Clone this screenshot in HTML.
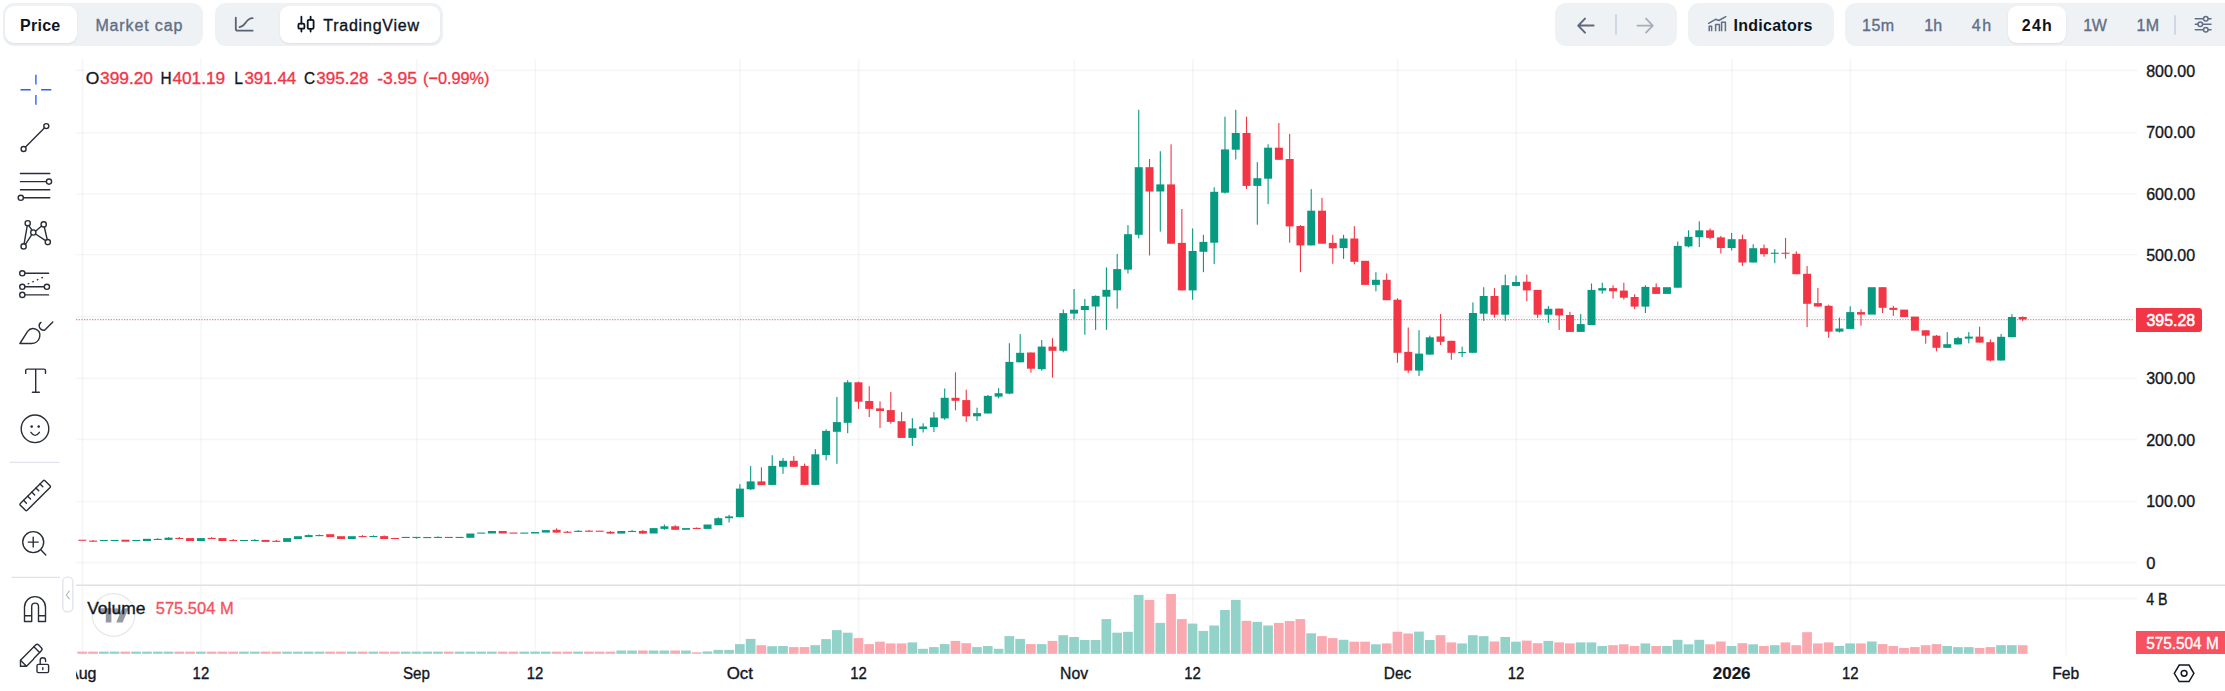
<!DOCTYPE html>
<html lang="en"><head><meta charset="utf-8"><title>Chart</title>
<style>
html,body{margin:0;padding:0;background:#fff;}
body{width:2225px;height:691px;position:relative;overflow:hidden;font-family:"Liberation Sans",sans-serif;}
.grp{position:absolute;top:3px;height:43px;background:#eff2f5;border-radius:11px;}
.pill{position:absolute;top:6px;height:37px;background:#fff;border-radius:9px;box-shadow:0 1px 2px rgba(128,138,157,.18);}
.t{position:absolute;line-height:20px;white-space:nowrap;}
.dv{position:absolute;width:2px;background:#cfd6e4;border-radius:1px;}
svg{overflow:visible}
</style></head><body>

<svg width="2225" height="691" viewBox="0 0 2225 691" style="position:absolute;left:0;top:0" font-family="'Liberation Sans', sans-serif"><defs><clipPath id="tclip"><rect x="76" y="655" width="2100" height="36"/></clipPath></defs><line x1="76" y1="70.40" x2="84" y2="70.40" stroke="#2a2e39" stroke-opacity="0.045" stroke-width="1.6"/>
<line x1="493" y1="70.40" x2="2137" y2="70.40" stroke="#2a2e39" stroke-opacity="0.045" stroke-width="1.6"/>
<line x1="76" y1="133.00" x2="2137" y2="133.00" stroke="#2a2e39" stroke-opacity="0.045" stroke-width="1.6"/>
<line x1="76" y1="194.00" x2="2137" y2="194.00" stroke="#2a2e39" stroke-opacity="0.045" stroke-width="1.6"/>
<line x1="76" y1="254.80" x2="2137" y2="254.80" stroke="#2a2e39" stroke-opacity="0.045" stroke-width="1.6"/>
<line x1="76" y1="316.90" x2="2137" y2="316.90" stroke="#2a2e39" stroke-opacity="0.045" stroke-width="1.6"/>
<line x1="76" y1="378.40" x2="2137" y2="378.40" stroke="#2a2e39" stroke-opacity="0.045" stroke-width="1.6"/>
<line x1="76" y1="439.40" x2="2137" y2="439.40" stroke="#2a2e39" stroke-opacity="0.045" stroke-width="1.6"/>
<line x1="76" y1="501.50" x2="2137" y2="501.50" stroke="#2a2e39" stroke-opacity="0.045" stroke-width="1.6"/>
<line x1="76" y1="562.60" x2="2137" y2="562.60" stroke="#2a2e39" stroke-opacity="0.045" stroke-width="1.6"/>
<line x1="238" y1="598.6" x2="2137" y2="598.6" stroke="#2a2e39" stroke-opacity="0.045" stroke-width="1.6"/>
<line x1="82.50" y1="59" x2="82.50" y2="655" stroke="#2a2e39" stroke-opacity="0.045" stroke-width="1.6"/>
<line x1="201.08" y1="59" x2="201.08" y2="655" stroke="#2a2e39" stroke-opacity="0.045" stroke-width="1.6"/>
<line x1="416.68" y1="59" x2="416.68" y2="655" stroke="#2a2e39" stroke-opacity="0.045" stroke-width="1.6"/>
<line x1="535.26" y1="59" x2="535.26" y2="655" stroke="#2a2e39" stroke-opacity="0.045" stroke-width="1.6"/>
<line x1="740.08" y1="59" x2="740.08" y2="655" stroke="#2a2e39" stroke-opacity="0.045" stroke-width="1.6"/>
<line x1="858.66" y1="59" x2="858.66" y2="655" stroke="#2a2e39" stroke-opacity="0.045" stroke-width="1.6"/>
<line x1="1074.26" y1="59" x2="1074.26" y2="655" stroke="#2a2e39" stroke-opacity="0.045" stroke-width="1.6"/>
<line x1="1192.84" y1="59" x2="1192.84" y2="655" stroke="#2a2e39" stroke-opacity="0.045" stroke-width="1.6"/>
<line x1="1397.66" y1="59" x2="1397.66" y2="655" stroke="#2a2e39" stroke-opacity="0.045" stroke-width="1.6"/>
<line x1="1516.24" y1="59" x2="1516.24" y2="655" stroke="#2a2e39" stroke-opacity="0.045" stroke-width="1.6"/>
<line x1="1731.84" y1="59" x2="1731.84" y2="655" stroke="#2a2e39" stroke-opacity="0.045" stroke-width="1.6"/>
<line x1="1850.42" y1="59" x2="1850.42" y2="655" stroke="#2a2e39" stroke-opacity="0.045" stroke-width="1.6"/>
<line x1="2066.02" y1="59" x2="2066.02" y2="655" stroke="#2a2e39" stroke-opacity="0.045" stroke-width="1.6"/>
<rect x="76" y="584.5" width="2149" height="1.4" fill="#dcdee4"/>
<g>
<rect x="77.4" y="651.6" width="9.7" height="2.2" fill="#f9a9af"/>
<rect x="88.2" y="651.6" width="9.7" height="2.2" fill="#f9a9af"/>
<rect x="99.0" y="651.6" width="9.7" height="2.2" fill="#92d2c9"/>
<rect x="109.7" y="651.6" width="9.7" height="2.2" fill="#92d2c9"/>
<rect x="120.5" y="651.6" width="9.7" height="2.2" fill="#f9a9af"/>
<rect x="131.3" y="651.6" width="9.7" height="2.2" fill="#92d2c9"/>
<rect x="142.1" y="651.6" width="9.7" height="2.2" fill="#92d2c9"/>
<rect x="152.9" y="651.6" width="9.7" height="2.2" fill="#92d2c9"/>
<rect x="163.6" y="651.6" width="9.7" height="2.2" fill="#92d2c9"/>
<rect x="174.4" y="651.6" width="9.7" height="2.2" fill="#f9a9af"/>
<rect x="185.2" y="651.6" width="9.7" height="2.2" fill="#f9a9af"/>
<rect x="196.0" y="651.6" width="9.7" height="2.2" fill="#92d2c9"/>
<rect x="206.8" y="651.6" width="9.7" height="2.2" fill="#f9a9af"/>
<rect x="217.5" y="651.6" width="9.7" height="2.2" fill="#f9a9af"/>
<rect x="228.3" y="651.6" width="9.7" height="2.2" fill="#f9a9af"/>
<rect x="239.1" y="651.6" width="9.7" height="2.2" fill="#92d2c9"/>
<rect x="249.9" y="651.6" width="9.7" height="2.2" fill="#92d2c9"/>
<rect x="260.7" y="651.6" width="9.7" height="2.2" fill="#f9a9af"/>
<rect x="271.4" y="651.6" width="9.7" height="2.2" fill="#f9a9af"/>
<rect x="282.2" y="651.6" width="9.7" height="2.2" fill="#92d2c9"/>
<rect x="293.0" y="651.6" width="9.7" height="2.2" fill="#92d2c9"/>
<rect x="303.8" y="651.6" width="9.7" height="2.2" fill="#92d2c9"/>
<rect x="314.6" y="651.6" width="9.7" height="2.2" fill="#92d2c9"/>
<rect x="325.3" y="651.6" width="9.7" height="2.2" fill="#f9a9af"/>
<rect x="336.1" y="651.6" width="9.7" height="2.2" fill="#f9a9af"/>
<rect x="346.9" y="651.6" width="9.7" height="2.2" fill="#92d2c9"/>
<rect x="357.7" y="651.6" width="9.7" height="2.2" fill="#f9a9af"/>
<rect x="368.5" y="651.6" width="9.7" height="2.2" fill="#92d2c9"/>
<rect x="379.2" y="651.6" width="9.7" height="2.2" fill="#f9a9af"/>
<rect x="390.0" y="651.6" width="9.7" height="2.2" fill="#f9a9af"/>
<rect x="400.8" y="651.6" width="9.7" height="2.2" fill="#92d2c9"/>
<rect x="411.6" y="651.6" width="9.7" height="2.2" fill="#92d2c9"/>
<rect x="422.4" y="651.6" width="9.7" height="2.2" fill="#92d2c9"/>
<rect x="433.1" y="651.6" width="9.7" height="2.2" fill="#92d2c9"/>
<rect x="443.9" y="651.6" width="9.7" height="2.2" fill="#f9a9af"/>
<rect x="454.7" y="651.6" width="9.7" height="2.2" fill="#92d2c9"/>
<rect x="465.5" y="651.6" width="9.7" height="2.2" fill="#92d2c9"/>
<rect x="476.3" y="651.6" width="9.7" height="2.2" fill="#92d2c9"/>
<rect x="487.0" y="651.6" width="9.7" height="2.2" fill="#92d2c9"/>
<rect x="497.8" y="651.6" width="9.7" height="2.2" fill="#f9a9af"/>
<rect x="508.6" y="651.6" width="9.7" height="2.2" fill="#f9a9af"/>
<rect x="519.4" y="651.6" width="9.7" height="2.2" fill="#92d2c9"/>
<rect x="530.2" y="651.6" width="9.7" height="2.2" fill="#92d2c9"/>
<rect x="540.9" y="651.6" width="9.7" height="2.2" fill="#92d2c9"/>
<rect x="551.7" y="651.6" width="9.7" height="2.2" fill="#f9a9af"/>
<rect x="562.5" y="651.6" width="9.7" height="2.2" fill="#f9a9af"/>
<rect x="573.3" y="651.6" width="9.7" height="2.2" fill="#92d2c9"/>
<rect x="584.1" y="651.6" width="9.7" height="2.2" fill="#f9a9af"/>
<rect x="594.8" y="651.6" width="9.7" height="2.2" fill="#f9a9af"/>
<rect x="605.6" y="651.6" width="9.7" height="2.2" fill="#f9a9af"/>
<rect x="616.4" y="650.5" width="9.7" height="3.3" fill="#92d2c9"/>
<rect x="627.2" y="650.5" width="9.7" height="3.3" fill="#92d2c9"/>
<rect x="638.0" y="650.5" width="9.7" height="3.3" fill="#f9a9af"/>
<rect x="648.7" y="650.5" width="9.7" height="3.3" fill="#92d2c9"/>
<rect x="659.5" y="650.5" width="9.7" height="3.3" fill="#92d2c9"/>
<rect x="670.3" y="650.5" width="9.7" height="3.3" fill="#f9a9af"/>
<rect x="681.1" y="650.5" width="9.7" height="3.3" fill="#92d2c9"/>
<rect x="691.9" y="652.3" width="9.7" height="1.5" fill="#f9a9af"/>
<rect x="702.6" y="651.4" width="9.7" height="2.4" fill="#92d2c9"/>
<rect x="713.4" y="649.9" width="9.7" height="3.9" fill="#92d2c9"/>
<rect x="724.2" y="649.9" width="9.7" height="3.9" fill="#92d2c9"/>
<rect x="735.0" y="644.1" width="9.7" height="9.7" fill="#92d2c9"/>
<rect x="745.8" y="638.9" width="9.7" height="14.9" fill="#92d2c9"/>
<rect x="756.5" y="645.2" width="9.7" height="8.6" fill="#f9a9af"/>
<rect x="767.3" y="646.2" width="9.7" height="7.6" fill="#92d2c9"/>
<rect x="778.1" y="646.0" width="9.7" height="7.8" fill="#92d2c9"/>
<rect x="788.9" y="647.1" width="9.7" height="6.7" fill="#f9a9af"/>
<rect x="799.7" y="647.1" width="9.7" height="6.7" fill="#f9a9af"/>
<rect x="810.4" y="645.2" width="9.7" height="8.6" fill="#92d2c9"/>
<rect x="821.2" y="639.1" width="9.7" height="14.7" fill="#92d2c9"/>
<rect x="832.0" y="630.1" width="9.7" height="23.7" fill="#92d2c9"/>
<rect x="842.8" y="632.7" width="9.7" height="21.1" fill="#92d2c9"/>
<rect x="853.6" y="638.1" width="9.7" height="15.7" fill="#f9a9af"/>
<rect x="864.3" y="644.1" width="9.7" height="9.7" fill="#f9a9af"/>
<rect x="875.1" y="641.7" width="9.7" height="12.1" fill="#f9a9af"/>
<rect x="885.9" y="643.4" width="9.7" height="10.4" fill="#f9a9af"/>
<rect x="896.7" y="643.4" width="9.7" height="10.4" fill="#f9a9af"/>
<rect x="907.5" y="642.4" width="9.7" height="11.4" fill="#92d2c9"/>
<rect x="918.2" y="648.8" width="9.7" height="5.0" fill="#92d2c9"/>
<rect x="929.0" y="647.1" width="9.7" height="6.7" fill="#92d2c9"/>
<rect x="939.8" y="644.1" width="9.7" height="9.7" fill="#92d2c9"/>
<rect x="950.6" y="640.9" width="9.7" height="12.9" fill="#f9a9af"/>
<rect x="961.4" y="643.2" width="9.7" height="10.6" fill="#f9a9af"/>
<rect x="972.1" y="647.1" width="9.7" height="6.7" fill="#92d2c9"/>
<rect x="982.9" y="646.0" width="9.7" height="7.8" fill="#92d2c9"/>
<rect x="993.7" y="648.8" width="9.7" height="5.0" fill="#92d2c9"/>
<rect x="1004.5" y="636.1" width="9.7" height="17.7" fill="#92d2c9"/>
<rect x="1015.3" y="638.9" width="9.7" height="14.9" fill="#92d2c9"/>
<rect x="1026.0" y="644.1" width="9.7" height="9.7" fill="#f9a9af"/>
<rect x="1036.8" y="644.1" width="9.7" height="9.7" fill="#92d2c9"/>
<rect x="1047.6" y="640.9" width="9.7" height="12.9" fill="#f9a9af"/>
<rect x="1058.4" y="635.2" width="9.7" height="18.6" fill="#92d2c9"/>
<rect x="1069.2" y="637.0" width="9.7" height="16.8" fill="#92d2c9"/>
<rect x="1079.9" y="640.0" width="9.7" height="13.8" fill="#92d2c9"/>
<rect x="1090.7" y="640.0" width="9.7" height="13.8" fill="#92d2c9"/>
<rect x="1101.5" y="619.1" width="9.7" height="34.7" fill="#92d2c9"/>
<rect x="1112.3" y="632.7" width="9.7" height="21.1" fill="#92d2c9"/>
<rect x="1123.1" y="631.8" width="9.7" height="22.0" fill="#92d2c9"/>
<rect x="1133.8" y="594.9" width="9.7" height="58.9" fill="#92d2c9"/>
<rect x="1144.6" y="599.9" width="9.7" height="53.9" fill="#f9a9af"/>
<rect x="1155.4" y="622.9" width="9.7" height="30.9" fill="#92d2c9"/>
<rect x="1166.2" y="594.0" width="9.7" height="59.8" fill="#f9a9af"/>
<rect x="1177.0" y="619.1" width="9.7" height="34.7" fill="#f9a9af"/>
<rect x="1187.7" y="623.6" width="9.7" height="30.2" fill="#92d2c9"/>
<rect x="1198.5" y="630.9" width="9.7" height="22.9" fill="#92d2c9"/>
<rect x="1209.3" y="625.5" width="9.7" height="28.3" fill="#92d2c9"/>
<rect x="1220.1" y="610.0" width="9.7" height="43.8" fill="#92d2c9"/>
<rect x="1230.9" y="599.9" width="9.7" height="53.9" fill="#92d2c9"/>
<rect x="1241.6" y="620.8" width="9.7" height="33.0" fill="#f9a9af"/>
<rect x="1252.4" y="621.9" width="9.7" height="31.9" fill="#92d2c9"/>
<rect x="1263.2" y="625.5" width="9.7" height="28.3" fill="#92d2c9"/>
<rect x="1274.0" y="622.9" width="9.7" height="30.9" fill="#f9a9af"/>
<rect x="1284.8" y="621.0" width="9.7" height="32.8" fill="#f9a9af"/>
<rect x="1295.5" y="619.1" width="9.7" height="34.7" fill="#f9a9af"/>
<rect x="1306.3" y="633.3" width="9.7" height="20.5" fill="#92d2c9"/>
<rect x="1317.1" y="636.1" width="9.7" height="17.7" fill="#f9a9af"/>
<rect x="1327.9" y="638.1" width="9.7" height="15.7" fill="#f9a9af"/>
<rect x="1338.7" y="639.8" width="9.7" height="14.0" fill="#92d2c9"/>
<rect x="1349.4" y="641.7" width="9.7" height="12.1" fill="#f9a9af"/>
<rect x="1360.2" y="641.7" width="9.7" height="12.1" fill="#f9a9af"/>
<rect x="1371.0" y="644.3" width="9.7" height="9.5" fill="#92d2c9"/>
<rect x="1381.8" y="643.4" width="9.7" height="10.4" fill="#f9a9af"/>
<rect x="1392.6" y="631.8" width="9.7" height="22.0" fill="#f9a9af"/>
<rect x="1403.3" y="633.5" width="9.7" height="20.3" fill="#f9a9af"/>
<rect x="1414.1" y="631.6" width="9.7" height="22.2" fill="#92d2c9"/>
<rect x="1424.9" y="640.0" width="9.7" height="13.8" fill="#92d2c9"/>
<rect x="1435.7" y="635.2" width="9.7" height="18.6" fill="#f9a9af"/>
<rect x="1446.5" y="642.4" width="9.7" height="11.4" fill="#f9a9af"/>
<rect x="1457.2" y="643.4" width="9.7" height="10.4" fill="#92d2c9"/>
<rect x="1468.0" y="635.2" width="9.7" height="18.6" fill="#92d2c9"/>
<rect x="1478.8" y="636.1" width="9.7" height="17.7" fill="#92d2c9"/>
<rect x="1489.6" y="641.5" width="9.7" height="12.3" fill="#f9a9af"/>
<rect x="1500.4" y="637.0" width="9.7" height="16.8" fill="#92d2c9"/>
<rect x="1511.1" y="641.7" width="9.7" height="12.1" fill="#92d2c9"/>
<rect x="1521.9" y="640.6" width="9.7" height="13.2" fill="#f9a9af"/>
<rect x="1532.7" y="643.2" width="9.7" height="10.6" fill="#f9a9af"/>
<rect x="1543.5" y="640.9" width="9.7" height="12.9" fill="#92d2c9"/>
<rect x="1554.3" y="642.4" width="9.7" height="11.4" fill="#f9a9af"/>
<rect x="1565.0" y="643.4" width="9.7" height="10.4" fill="#f9a9af"/>
<rect x="1575.8" y="642.4" width="9.7" height="11.4" fill="#92d2c9"/>
<rect x="1586.6" y="642.4" width="9.7" height="11.4" fill="#92d2c9"/>
<rect x="1597.4" y="646.0" width="9.7" height="7.8" fill="#92d2c9"/>
<rect x="1608.2" y="645.2" width="9.7" height="8.6" fill="#f9a9af"/>
<rect x="1618.9" y="644.3" width="9.7" height="9.5" fill="#f9a9af"/>
<rect x="1629.7" y="646.0" width="9.7" height="7.8" fill="#f9a9af"/>
<rect x="1640.5" y="643.4" width="9.7" height="10.4" fill="#92d2c9"/>
<rect x="1651.3" y="646.0" width="9.7" height="7.8" fill="#f9a9af"/>
<rect x="1662.1" y="646.0" width="9.7" height="7.8" fill="#92d2c9"/>
<rect x="1672.8" y="639.8" width="9.7" height="14.0" fill="#92d2c9"/>
<rect x="1683.6" y="644.3" width="9.7" height="9.5" fill="#92d2c9"/>
<rect x="1694.4" y="639.8" width="9.7" height="14.0" fill="#92d2c9"/>
<rect x="1705.2" y="644.3" width="9.7" height="9.5" fill="#f9a9af"/>
<rect x="1716.0" y="641.5" width="9.7" height="12.3" fill="#f9a9af"/>
<rect x="1726.7" y="646.0" width="9.7" height="7.8" fill="#92d2c9"/>
<rect x="1737.5" y="643.2" width="9.7" height="10.6" fill="#f9a9af"/>
<rect x="1748.3" y="644.3" width="9.7" height="9.5" fill="#92d2c9"/>
<rect x="1759.1" y="646.0" width="9.7" height="7.8" fill="#f9a9af"/>
<rect x="1769.9" y="645.2" width="9.7" height="8.6" fill="#92d2c9"/>
<rect x="1780.6" y="642.4" width="9.7" height="11.4" fill="#f9a9af"/>
<rect x="1791.4" y="645.2" width="9.7" height="8.6" fill="#f9a9af"/>
<rect x="1802.2" y="632.2" width="9.7" height="21.6" fill="#f9a9af"/>
<rect x="1813.0" y="643.4" width="9.7" height="10.4" fill="#f9a9af"/>
<rect x="1823.8" y="642.4" width="9.7" height="11.4" fill="#f9a9af"/>
<rect x="1834.5" y="646.0" width="9.7" height="7.8" fill="#92d2c9"/>
<rect x="1845.3" y="643.4" width="9.7" height="10.4" fill="#92d2c9"/>
<rect x="1856.1" y="643.4" width="9.7" height="10.4" fill="#f9a9af"/>
<rect x="1866.9" y="641.5" width="9.7" height="12.3" fill="#92d2c9"/>
<rect x="1877.7" y="644.1" width="9.7" height="9.7" fill="#f9a9af"/>
<rect x="1888.4" y="646.0" width="9.7" height="7.8" fill="#f9a9af"/>
<rect x="1899.2" y="648.0" width="9.7" height="5.8" fill="#f9a9af"/>
<rect x="1910.0" y="647.1" width="9.7" height="6.7" fill="#f9a9af"/>
<rect x="1920.8" y="645.2" width="9.7" height="8.6" fill="#f9a9af"/>
<rect x="1931.6" y="644.1" width="9.7" height="9.7" fill="#f9a9af"/>
<rect x="1942.3" y="646.0" width="9.7" height="7.8" fill="#92d2c9"/>
<rect x="1953.1" y="647.1" width="9.7" height="6.7" fill="#92d2c9"/>
<rect x="1963.9" y="647.1" width="9.7" height="6.7" fill="#92d2c9"/>
<rect x="1974.7" y="648.0" width="9.7" height="5.8" fill="#f9a9af"/>
<rect x="1985.5" y="647.1" width="9.7" height="6.7" fill="#f9a9af"/>
<rect x="1996.2" y="645.2" width="9.7" height="8.6" fill="#92d2c9"/>
<rect x="2007.0" y="645.2" width="9.7" height="8.6" fill="#92d2c9"/>
<rect x="2017.8" y="645.2" width="9.7" height="8.6" fill="#f9a9af"/>
</g>
<line x1="76" y1="319.6" x2="2134" y2="319.6" stroke="#f23645" stroke-opacity="0.6" stroke-width="1.2" stroke-dasharray="1.333 1.333"/>
<g><rect x="92.53" y="540.0" width="1.1" height="1.7" fill="#f23645"/><rect x="157.21" y="538.2" width="1.1" height="1.8" fill="#089981"/><rect x="167.99" y="537.1" width="1.1" height="2.8" fill="#089981"/><rect x="178.77" y="537.1" width="1.1" height="1.9" fill="#f23645"/><rect x="211.11" y="537.1" width="1.1" height="1.9" fill="#f23645"/><rect x="232.67" y="539.0" width="1.1" height="2.0" fill="#f23645"/><rect x="254.23" y="539.1" width="1.1" height="1.9" fill="#089981"/><rect x="275.79" y="540.0" width="1.1" height="1.9" fill="#f23645"/><rect x="308.13" y="534.4" width="1.1" height="2.7" fill="#089981"/><rect x="318.91" y="534.5" width="1.1" height="1.6" fill="#089981"/><rect x="362.03" y="535.1" width="1.1" height="2.0" fill="#f23645"/><rect x="372.81" y="535.3" width="1.1" height="1.8" fill="#089981"/><rect x="383.59" y="535.3" width="1.1" height="3.7" fill="#f23645"/><rect x="415.93" y="536.9" width="1.1" height="1.8" fill="#089981"/><rect x="437.49" y="536.4" width="1.1" height="1.6" fill="#089981"/><rect x="556.07" y="528.3" width="1.1" height="4.3" fill="#f23645"/><rect x="566.85" y="531.0" width="1.1" height="1.8" fill="#f23645"/><rect x="577.63" y="530.1" width="1.1" height="1.8" fill="#089981"/><rect x="588.41" y="530.1" width="1.1" height="1.6" fill="#f23645"/><rect x="609.97" y="531.0" width="1.1" height="2.6" fill="#f23645"/><rect x="631.53" y="530.1" width="1.1" height="1.9" fill="#089981"/><rect x="642.31" y="530.1" width="1.1" height="3.5" fill="#f23645"/><rect x="663.87" y="524.6" width="1.1" height="5.1" fill="#089981"/><rect x="674.65" y="525.2" width="1.1" height="4.6" fill="#f23645"/><rect x="696.21" y="527.4" width="1.1" height="1.6" fill="#f23645"/><rect x="717.77" y="517.3" width="1.1" height="7.9" fill="#089981"/><rect x="728.55" y="514.8" width="1.1" height="7.7" fill="#089981"/><rect x="739.33" y="484.2" width="1.1" height="33.3" fill="#089981"/><rect x="750.11" y="466.1" width="1.1" height="23.9" fill="#089981"/><rect x="760.89" y="467.3" width="1.1" height="17.8" fill="#f23645"/><rect x="771.67" y="455.2" width="1.1" height="29.7" fill="#089981"/><rect x="782.45" y="458.0" width="1.1" height="15.8" fill="#089981"/><rect x="793.23" y="456.2" width="1.1" height="10.6" fill="#f23645"/><rect x="804.01" y="463.6" width="1.1" height="21.3" fill="#f23645"/><rect x="814.79" y="449.2" width="1.1" height="35.7" fill="#089981"/><rect x="825.57" y="429.3" width="1.1" height="31.0" fill="#089981"/><rect x="836.35" y="396.9" width="1.1" height="66.9" fill="#089981"/><rect x="847.13" y="380.2" width="1.1" height="53.0" fill="#089981"/><rect x="857.91" y="381.6" width="1.1" height="27.3" fill="#f23645"/><rect x="868.69" y="386.2" width="1.1" height="30.8" fill="#f23645"/><rect x="879.47" y="401.3" width="1.1" height="26.6" fill="#f23645"/><rect x="890.25" y="392.0" width="1.1" height="31.7" fill="#f23645"/><rect x="901.03" y="412.1" width="1.1" height="25.8" fill="#f23645"/><rect x="911.81" y="418.2" width="1.1" height="27.8" fill="#089981"/><rect x="922.59" y="423.3" width="1.1" height="9.2" fill="#089981"/><rect x="933.37" y="412.1" width="1.1" height="20.0" fill="#089981"/><rect x="944.15" y="388.5" width="1.1" height="31.3" fill="#089981"/><rect x="954.93" y="372.3" width="1.1" height="38.0" fill="#f23645"/><rect x="965.71" y="389.7" width="1.1" height="32.2" fill="#f23645"/><rect x="976.49" y="407.7" width="1.1" height="13.2" fill="#089981"/><rect x="987.27" y="395.0" width="1.1" height="18.5" fill="#089981"/><rect x="998.05" y="388.1" width="1.1" height="10.2" fill="#089981"/><rect x="1008.83" y="343.2" width="1.1" height="51.1" fill="#089981"/><rect x="1019.61" y="334.1" width="1.1" height="28.2" fill="#089981"/><rect x="1030.39" y="352.5" width="1.1" height="20.2" fill="#f23645"/><rect x="1041.17" y="340.0" width="1.1" height="30.7" fill="#089981"/><rect x="1051.95" y="338.2" width="1.1" height="39.4" fill="#f23645"/><rect x="1062.73" y="309.5" width="1.1" height="42.8" fill="#089981"/><rect x="1073.51" y="289.0" width="1.1" height="30.1" fill="#089981"/><rect x="1084.29" y="298.9" width="1.1" height="35.7" fill="#089981"/><rect x="1095.07" y="295.4" width="1.1" height="34.5" fill="#089981"/><rect x="1105.85" y="267.4" width="1.1" height="62.5" fill="#089981"/><rect x="1116.63" y="253.9" width="1.1" height="54.8" fill="#089981"/><rect x="1127.41" y="225.1" width="1.1" height="48.4" fill="#089981"/><rect x="1138.19" y="109.8" width="1.1" height="128.5" fill="#089981"/><rect x="1148.97" y="159.0" width="1.1" height="96.5" fill="#f23645"/><rect x="1159.75" y="151.2" width="1.1" height="80.4" fill="#089981"/><rect x="1170.53" y="144.3" width="1.1" height="99.4" fill="#f23645"/><rect x="1181.31" y="209.0" width="1.1" height="81.4" fill="#f23645"/><rect x="1192.09" y="228.4" width="1.1" height="71.4" fill="#089981"/><rect x="1202.87" y="234.8" width="1.1" height="37.4" fill="#089981"/><rect x="1213.65" y="187.3" width="1.1" height="76.8" fill="#089981"/><rect x="1224.43" y="116.7" width="1.1" height="76.8" fill="#089981"/><rect x="1235.21" y="109.8" width="1.1" height="49.7" fill="#089981"/><rect x="1245.99" y="116.7" width="1.1" height="72.4" fill="#f23645"/><rect x="1256.77" y="162.2" width="1.1" height="62.5" fill="#089981"/><rect x="1267.55" y="144.3" width="1.1" height="59.8" fill="#089981"/><rect x="1278.33" y="123.1" width="1.1" height="36.7" fill="#f23645"/><rect x="1289.11" y="133.9" width="1.1" height="108.8" fill="#f23645"/><rect x="1299.89" y="225.0" width="1.1" height="47.2" fill="#f23645"/><rect x="1310.67" y="189.1" width="1.1" height="56.3" fill="#089981"/><rect x="1321.45" y="197.9" width="1.1" height="45.8" fill="#f23645"/><rect x="1332.23" y="234.8" width="1.1" height="29.0" fill="#f23645"/><rect x="1343.01" y="234.8" width="1.1" height="24.1" fill="#089981"/><rect x="1353.79" y="226.2" width="1.1" height="38.1" fill="#f23645"/><rect x="1375.35" y="272.2" width="1.1" height="19.1" fill="#089981"/><rect x="1386.13" y="273.4" width="1.1" height="26.8" fill="#f23645"/><rect x="1396.91" y="298.2" width="1.1" height="64.5" fill="#f23645"/><rect x="1407.69" y="327.5" width="1.1" height="45.5" fill="#f23645"/><rect x="1418.47" y="330.2" width="1.1" height="45.8" fill="#089981"/><rect x="1429.25" y="335.6" width="1.1" height="19.0" fill="#089981"/><rect x="1440.03" y="314.0" width="1.1" height="31.0" fill="#f23645"/><rect x="1450.81" y="340.8" width="1.1" height="18.9" fill="#f23645"/><rect x="1461.59" y="346.7" width="1.1" height="10.3" fill="#089981"/><rect x="1472.37" y="302.4" width="1.1" height="50.4" fill="#089981"/><rect x="1483.15" y="287.2" width="1.1" height="33.7" fill="#089981"/><rect x="1493.93" y="288.1" width="1.1" height="29.6" fill="#f23645"/><rect x="1504.71" y="274.6" width="1.1" height="46.3" fill="#089981"/><rect x="1515.49" y="275.6" width="1.1" height="10.8" fill="#089981"/><rect x="1526.27" y="274.6" width="1.1" height="26.6" fill="#f23645"/><rect x="1537.05" y="289.9" width="1.1" height="28.0" fill="#f23645"/><rect x="1547.83" y="306.1" width="1.1" height="16.7" fill="#089981"/><rect x="1558.61" y="308.6" width="1.1" height="21.4" fill="#f23645"/><rect x="1569.39" y="311.8" width="1.1" height="20.1" fill="#f23645"/><rect x="1580.17" y="314.0" width="1.1" height="17.9" fill="#089981"/><rect x="1590.95" y="283.5" width="1.1" height="41.5" fill="#089981"/><rect x="1601.73" y="282.7" width="1.1" height="11.1" fill="#089981"/><rect x="1612.51" y="285.2" width="1.1" height="13.5" fill="#f23645"/><rect x="1623.29" y="282.7" width="1.1" height="16.8" fill="#f23645"/><rect x="1634.07" y="294.3" width="1.1" height="14.8" fill="#f23645"/><rect x="1644.85" y="285.2" width="1.1" height="27.8" fill="#089981"/><rect x="1655.63" y="283.4" width="1.1" height="10.5" fill="#f23645"/><rect x="1677.19" y="241.5" width="1.1" height="46.2" fill="#089981"/><rect x="1687.97" y="230.3" width="1.1" height="17.0" fill="#089981"/><rect x="1698.75" y="221.3" width="1.1" height="25.8" fill="#089981"/><rect x="1709.53" y="228.5" width="1.1" height="10.7" fill="#f23645"/><rect x="1720.31" y="235.9" width="1.1" height="17.7" fill="#f23645"/><rect x="1731.09" y="232.9" width="1.1" height="17.5" fill="#089981"/><rect x="1741.87" y="234.7" width="1.1" height="31.2" fill="#f23645"/><rect x="1752.65" y="244.2" width="1.1" height="18.3" fill="#089981"/><rect x="1763.43" y="244.6" width="1.1" height="12.1" fill="#f23645"/><rect x="1774.21" y="249.1" width="1.1" height="14.1" fill="#089981"/><rect x="1784.99" y="237.9" width="1.1" height="20.8" fill="#f23645"/><rect x="1795.77" y="251.3" width="1.1" height="22.9" fill="#f23645"/><rect x="1806.55" y="266.1" width="1.1" height="61.0" fill="#f23645"/><rect x="1817.33" y="287.9" width="1.1" height="19.0" fill="#f23645"/><rect x="1828.11" y="304.7" width="1.1" height="33.2" fill="#f23645"/><rect x="1838.89" y="317.7" width="1.1" height="14.8" fill="#089981"/><rect x="1849.67" y="306.3" width="1.1" height="22.6" fill="#089981"/><rect x="1860.45" y="309.2" width="1.1" height="16.4" fill="#f23645"/><rect x="1882.01" y="287.2" width="1.1" height="25.8" fill="#f23645"/><rect x="1892.79" y="305.8" width="1.1" height="10.1" fill="#f23645"/><rect x="1925.13" y="330.3" width="1.1" height="13.4" fill="#f23645"/><rect x="1935.91" y="335.0" width="1.1" height="16.4" fill="#f23645"/><rect x="1946.69" y="332.1" width="1.1" height="15.7" fill="#089981"/><rect x="1957.47" y="336.8" width="1.1" height="7.6" fill="#089981"/><rect x="1968.25" y="332.1" width="1.1" height="11.2" fill="#089981"/><rect x="1979.03" y="326.7" width="1.1" height="15.9" fill="#f23645"/><rect x="1989.81" y="339.5" width="1.1" height="21.9" fill="#f23645"/><rect x="2000.59" y="333.9" width="1.1" height="26.6" fill="#089981"/><rect x="2011.37" y="314.1" width="1.1" height="23.1" fill="#089981"/><rect x="2022.15" y="316.4" width="1.1" height="4.9" fill="#f23645"/></g>
<g><rect x="78.30" y="539.7" width="8.00" height="1.1" fill="#f23645"/><rect x="89.08" y="540.6" width="8.00" height="1.1" fill="#f23645"/><rect x="99.86" y="539.95" width="8.00" height="1.1" fill="#089981"/><rect x="110.64" y="539.95" width="8.00" height="1.1" fill="#089981"/><rect x="121.42" y="539.7" width="8.00" height="2.0" fill="#f23645"/><rect x="132.20" y="539.95" width="8.00" height="1.1" fill="#089981"/><rect x="142.98" y="538.8" width="8.00" height="2.2" fill="#089981"/><rect x="153.76" y="538.9" width="8.00" height="1.1" fill="#089981"/><rect x="164.54" y="537.7" width="8.00" height="2.2" fill="#089981"/><rect x="175.32" y="537.9" width="8.00" height="1.1" fill="#f23645"/><rect x="186.10" y="538.1" width="8.00" height="2.9" fill="#f23645"/><rect x="196.88" y="538.1" width="8.00" height="2.9" fill="#089981"/><rect x="207.66" y="537.9" width="8.00" height="1.1" fill="#f23645"/><rect x="218.44" y="538.1" width="8.00" height="2.9" fill="#f23645"/><rect x="229.22" y="539.95" width="8.00" height="1.1" fill="#f23645"/><rect x="240.00" y="539.95" width="8.00" height="1.1" fill="#089981"/><rect x="250.78" y="539.95" width="8.00" height="1.1" fill="#089981"/><rect x="261.56" y="539.9" width="8.00" height="2.0" fill="#f23645"/><rect x="272.34" y="540.8" width="8.00" height="1.1" fill="#f23645"/><rect x="283.12" y="538.1" width="8.00" height="3.8" fill="#089981"/><rect x="293.90" y="536.2" width="8.00" height="2.8" fill="#089981"/><rect x="304.68" y="535.1" width="8.00" height="2.0" fill="#089981"/><rect x="315.46" y="535.05" width="8.00" height="1.1" fill="#089981"/><rect x="326.24" y="534.2" width="8.00" height="2.9" fill="#f23645"/><rect x="337.02" y="536.2" width="8.00" height="2.8" fill="#f23645"/><rect x="347.80" y="536.2" width="8.00" height="2.8" fill="#089981"/><rect x="358.58" y="536.05" width="8.00" height="1.1" fill="#f23645"/><rect x="369.36" y="536.0" width="8.00" height="1.1" fill="#089981"/><rect x="380.14" y="536.1" width="8.00" height="2.9" fill="#f23645"/><rect x="390.92" y="538.0" width="8.00" height="1.1" fill="#f23645"/><rect x="401.70" y="536.9" width="8.00" height="1.1" fill="#089981"/><rect x="412.48" y="536.9" width="8.00" height="1.1" fill="#089981"/><rect x="423.26" y="537.0" width="8.00" height="1.1" fill="#089981"/><rect x="434.04" y="536.9" width="8.00" height="1.1" fill="#089981"/><rect x="444.82" y="536.9" width="8.00" height="1.1" fill="#f23645"/><rect x="455.60" y="536.9" width="8.00" height="1.1" fill="#089981"/><rect x="466.38" y="533.5" width="8.00" height="4.3" fill="#089981"/><rect x="477.16" y="532.55" width="8.00" height="1.1" fill="#089981"/><rect x="487.94" y="531.0" width="8.00" height="2.5" fill="#089981"/><rect x="498.72" y="531.0" width="8.00" height="2.5" fill="#f23645"/><rect x="509.50" y="532.55" width="8.00" height="1.1" fill="#f23645"/><rect x="520.28" y="532.55" width="8.00" height="1.1" fill="#089981"/><rect x="531.06" y="532.0" width="8.00" height="1.5" fill="#089981"/><rect x="541.84" y="530.1" width="8.00" height="2.5" fill="#089981"/><rect x="552.62" y="529.8" width="8.00" height="2.8" fill="#f23645"/><rect x="563.40" y="531.7" width="8.00" height="1.1" fill="#f23645"/><rect x="574.18" y="530.8" width="8.00" height="1.1" fill="#089981"/><rect x="584.96" y="530.65" width="8.00" height="1.1" fill="#f23645"/><rect x="595.74" y="530.65" width="8.00" height="1.1" fill="#f23645"/><rect x="606.52" y="531.8" width="8.00" height="1.8" fill="#f23645"/><rect x="617.30" y="531.0" width="8.00" height="2.6" fill="#089981"/><rect x="628.08" y="530.95" width="8.00" height="1.1" fill="#089981"/><rect x="638.86" y="530.9" width="8.00" height="2.7" fill="#f23645"/><rect x="649.64" y="528.1" width="8.00" height="5.4" fill="#089981"/><rect x="660.42" y="526.3" width="8.00" height="2.6" fill="#089981"/><rect x="671.20" y="526.3" width="8.00" height="3.5" fill="#f23645"/><rect x="681.98" y="528.1" width="8.00" height="1.7" fill="#089981"/><rect x="692.76" y="527.9" width="8.00" height="1.1" fill="#f23645"/><rect x="703.54" y="524.5" width="8.00" height="4.4" fill="#089981"/><rect x="714.32" y="518.2" width="8.00" height="7.0" fill="#089981"/><rect x="725.10" y="516.4" width="8.00" height="1.8" fill="#089981"/><rect x="735.88" y="488.6" width="8.00" height="28.5" fill="#089981"/><rect x="746.66" y="481.4" width="8.00" height="7.9" fill="#089981"/><rect x="757.44" y="481.4" width="8.00" height="3.7" fill="#f23645"/><rect x="768.22" y="465.9" width="8.00" height="19.0" fill="#089981"/><rect x="779.00" y="460.8" width="8.00" height="6.0" fill="#089981"/><rect x="789.78" y="460.8" width="8.00" height="6.0" fill="#f23645"/><rect x="800.56" y="465.9" width="8.00" height="19.0" fill="#f23645"/><rect x="811.34" y="454.3" width="8.00" height="30.6" fill="#089981"/><rect x="822.12" y="430.9" width="8.00" height="24.1" fill="#089981"/><rect x="832.90" y="422.1" width="8.00" height="9.7" fill="#089981"/><rect x="843.68" y="382.3" width="8.00" height="40.5" fill="#089981"/><rect x="854.46" y="382.3" width="8.00" height="19.4" fill="#f23645"/><rect x="865.24" y="401.0" width="8.00" height="7.9" fill="#f23645"/><rect x="876.02" y="408.4" width="8.00" height="2.6" fill="#f23645"/><rect x="886.80" y="410.1" width="8.00" height="11.8" fill="#f23645"/><rect x="897.58" y="421.2" width="8.00" height="16.7" fill="#f23645"/><rect x="908.36" y="428.4" width="8.00" height="9.5" fill="#089981"/><rect x="919.14" y="426.5" width="8.00" height="2.6" fill="#089981"/><rect x="929.92" y="417.5" width="8.00" height="9.5" fill="#089981"/><rect x="940.70" y="397.8" width="8.00" height="20.6" fill="#089981"/><rect x="951.48" y="397.8" width="8.00" height="3.0" fill="#f23645"/><rect x="962.26" y="400.1" width="8.00" height="16.2" fill="#f23645"/><rect x="973.04" y="413.1" width="8.00" height="3.2" fill="#089981"/><rect x="983.82" y="395.9" width="8.00" height="17.6" fill="#089981"/><rect x="994.60" y="393.2" width="8.00" height="3.4" fill="#089981"/><rect x="1005.38" y="361.9" width="8.00" height="31.7" fill="#089981"/><rect x="1016.16" y="352.8" width="8.00" height="9.5" fill="#089981"/><rect x="1026.94" y="352.5" width="8.00" height="16.2" fill="#f23645"/><rect x="1037.72" y="346.6" width="8.00" height="22.6" fill="#089981"/><rect x="1048.50" y="346.6" width="8.00" height="4.2" fill="#f23645"/><rect x="1059.28" y="313.1" width="8.00" height="37.7" fill="#089981"/><rect x="1070.06" y="309.7" width="8.00" height="3.9" fill="#089981"/><rect x="1080.84" y="306.0" width="8.00" height="4.0" fill="#089981"/><rect x="1091.62" y="295.9" width="8.00" height="10.6" fill="#089981"/><rect x="1102.40" y="289.8" width="8.00" height="6.9" fill="#089981"/><rect x="1113.18" y="269.1" width="8.00" height="21.2" fill="#089981"/><rect x="1123.96" y="234.2" width="8.00" height="35.4" fill="#089981"/><rect x="1134.74" y="167.2" width="8.00" height="67.6" fill="#089981"/><rect x="1145.52" y="167.2" width="8.00" height="24.3" fill="#f23645"/><rect x="1156.30" y="184.4" width="8.00" height="7.1" fill="#089981"/><rect x="1167.08" y="184.4" width="8.00" height="59.3" fill="#f23645"/><rect x="1177.86" y="242.9" width="8.00" height="47.5" fill="#f23645"/><rect x="1188.64" y="251.0" width="8.00" height="39.4" fill="#089981"/><rect x="1199.42" y="241.9" width="8.00" height="9.9" fill="#089981"/><rect x="1210.20" y="191.8" width="8.00" height="50.9" fill="#089981"/><rect x="1220.98" y="149.4" width="8.00" height="43.3" fill="#089981"/><rect x="1231.76" y="133.0" width="8.00" height="16.7" fill="#089981"/><rect x="1242.54" y="133.0" width="8.00" height="52.9" fill="#f23645"/><rect x="1253.32" y="178.2" width="8.00" height="7.7" fill="#089981"/><rect x="1264.10" y="147.7" width="8.00" height="31.0" fill="#089981"/><rect x="1274.88" y="147.7" width="8.00" height="12.1" fill="#f23645"/><rect x="1285.66" y="159.0" width="8.00" height="67.4" fill="#f23645"/><rect x="1296.44" y="226.0" width="8.00" height="19.4" fill="#f23645"/><rect x="1307.22" y="210.7" width="8.00" height="34.7" fill="#089981"/><rect x="1318.00" y="210.7" width="8.00" height="33.0" fill="#f23645"/><rect x="1328.78" y="242.9" width="8.00" height="5.4" fill="#f23645"/><rect x="1339.56" y="238.5" width="8.00" height="9.5" fill="#089981"/><rect x="1350.34" y="238.5" width="8.00" height="23.3" fill="#f23645"/><rect x="1361.12" y="260.8" width="8.00" height="24.1" fill="#f23645"/><rect x="1371.90" y="279.8" width="8.00" height="5.1" fill="#089981"/><rect x="1382.68" y="279.8" width="8.00" height="20.4" fill="#f23645"/><rect x="1393.46" y="299.7" width="8.00" height="53.1" fill="#f23645"/><rect x="1404.24" y="351.9" width="8.00" height="18.7" fill="#f23645"/><rect x="1415.02" y="353.6" width="8.00" height="17.0" fill="#089981"/><rect x="1425.80" y="337.3" width="8.00" height="17.3" fill="#089981"/><rect x="1436.58" y="336.4" width="8.00" height="5.4" fill="#f23645"/><rect x="1447.36" y="340.8" width="8.00" height="12.0" fill="#f23645"/><rect x="1458.14" y="352.05" width="8.00" height="1.1" fill="#089981"/><rect x="1468.92" y="313.0" width="8.00" height="39.8" fill="#089981"/><rect x="1479.70" y="296.0" width="8.00" height="17.7" fill="#089981"/><rect x="1490.48" y="296.0" width="8.00" height="18.7" fill="#f23645"/><rect x="1501.26" y="285.2" width="8.00" height="29.5" fill="#089981"/><rect x="1512.04" y="282.0" width="8.00" height="3.9" fill="#089981"/><rect x="1522.82" y="281.7" width="8.00" height="8.7" fill="#f23645"/><rect x="1533.60" y="289.9" width="8.00" height="24.8" fill="#f23645"/><rect x="1544.38" y="308.8" width="8.00" height="5.9" fill="#089981"/><rect x="1555.16" y="308.6" width="8.00" height="6.8" fill="#f23645"/><rect x="1565.94" y="315.0" width="8.00" height="16.9" fill="#f23645"/><rect x="1576.72" y="324.1" width="8.00" height="7.8" fill="#089981"/><rect x="1587.50" y="289.9" width="8.00" height="35.1" fill="#089981"/><rect x="1598.28" y="288.1" width="8.00" height="2.5" fill="#089981"/><rect x="1609.06" y="288.1" width="8.00" height="3.2" fill="#f23645"/><rect x="1619.84" y="290.6" width="8.00" height="7.1" fill="#f23645"/><rect x="1630.62" y="297.0" width="8.00" height="9.6" fill="#f23645"/><rect x="1641.40" y="286.9" width="8.00" height="19.7" fill="#089981"/><rect x="1652.18" y="287.2" width="8.00" height="6.7" fill="#f23645"/><rect x="1662.96" y="287.2" width="8.00" height="6.7" fill="#089981"/><rect x="1673.74" y="245.9" width="8.00" height="41.8" fill="#089981"/><rect x="1684.52" y="236.8" width="8.00" height="9.6" fill="#089981"/><rect x="1695.30" y="230.3" width="8.00" height="6.9" fill="#089981"/><rect x="1706.08" y="230.3" width="8.00" height="7.6" fill="#f23645"/><rect x="1716.86" y="237.4" width="8.00" height="10.6" fill="#f23645"/><rect x="1727.64" y="239.2" width="8.00" height="8.8" fill="#089981"/><rect x="1738.42" y="239.2" width="8.00" height="23.3" fill="#f23645"/><rect x="1749.20" y="248.2" width="8.00" height="14.3" fill="#089981"/><rect x="1759.98" y="248.2" width="8.00" height="6.0" fill="#f23645"/><rect x="1770.76" y="252.7" width="8.00" height="1.1" fill="#089981"/><rect x="1781.54" y="252.7" width="8.00" height="1.1" fill="#f23645"/><rect x="1792.32" y="253.8" width="8.00" height="20.4" fill="#f23645"/><rect x="1803.10" y="273.8" width="8.00" height="30.0" fill="#f23645"/><rect x="1813.88" y="303.1" width="8.00" height="3.4" fill="#f23645"/><rect x="1824.66" y="305.8" width="8.00" height="25.8" fill="#f23645"/><rect x="1835.44" y="328.5" width="8.00" height="3.1" fill="#089981"/><rect x="1846.22" y="312.1" width="8.00" height="16.8" fill="#089981"/><rect x="1857.00" y="312.1" width="8.00" height="2.5" fill="#f23645"/><rect x="1867.78" y="287.2" width="8.00" height="27.4" fill="#089981"/><rect x="1878.56" y="287.2" width="8.00" height="20.6" fill="#f23645"/><rect x="1889.34" y="307.8" width="8.00" height="2.1" fill="#f23645"/><rect x="1900.12" y="309.6" width="8.00" height="7.4" fill="#f23645"/><rect x="1910.90" y="316.6" width="8.00" height="14.1" fill="#f23645"/><rect x="1921.68" y="330.3" width="8.00" height="5.4" fill="#f23645"/><rect x="1932.46" y="335.7" width="8.00" height="12.1" fill="#f23645"/><rect x="1943.24" y="344.2" width="8.00" height="3.6" fill="#089981"/><rect x="1954.02" y="338.1" width="8.00" height="6.3" fill="#089981"/><rect x="1964.80" y="336.6" width="8.00" height="2.0" fill="#089981"/><rect x="1975.58" y="336.6" width="8.00" height="6.0" fill="#f23645"/><rect x="1986.36" y="342.2" width="8.00" height="18.3" fill="#f23645"/><rect x="1997.14" y="336.8" width="8.00" height="23.7" fill="#089981"/><rect x="2007.92" y="317.0" width="8.00" height="20.2" fill="#089981"/><rect x="2018.70" y="317.0" width="8.00" height="2.5" fill="#f23645"/></g>
<g><circle cx="113.5" cy="615" r="21.3" fill="#fff" stroke="#e6e8ec" stroke-width="1.3"/><g fill="#9598a1" transform="translate(100.2 605) scale(0.8)"><path d="M14 22H7V11H0V4h14z"/><circle cx="20" cy="8" r="4"/><path d="M28 22h-8l7.5-18h8z"/></g></g>
<text x="85.7" y="84.4" font-size="17.3" fill="#131722" stroke="#131722" stroke-width="0.35" textLength="13.6" lengthAdjust="spacingAndGlyphs">O</text>
<text x="100.0" y="84.4" font-size="17.3" fill="#f23645" stroke="#f23645" stroke-width="0.35" textLength="53.0" lengthAdjust="spacingAndGlyphs">399.20</text>
<text x="160.4" y="84.4" font-size="17.3" fill="#131722" stroke="#131722" stroke-width="0.35" textLength="11.1" lengthAdjust="spacingAndGlyphs">H</text>
<text x="172.4" y="84.4" font-size="17.3" fill="#f23645" stroke="#f23645" stroke-width="0.35" textLength="52.7" lengthAdjust="spacingAndGlyphs">401.19</text>
<text x="234.3" y="84.4" font-size="17.3" fill="#131722" stroke="#131722" stroke-width="0.35" textLength="8.7" lengthAdjust="spacingAndGlyphs">L</text>
<text x="244.4" y="84.4" font-size="17.3" fill="#f23645" stroke="#f23645" stroke-width="0.35" textLength="51.9" lengthAdjust="spacingAndGlyphs">391.44</text>
<text x="303.9" y="84.4" font-size="17.3" fill="#131722" stroke="#131722" stroke-width="0.35" textLength="11.1" lengthAdjust="spacingAndGlyphs">C</text>
<text x="316.3" y="84.4" font-size="17.3" fill="#f23645" stroke="#f23645" stroke-width="0.35" textLength="52.1" lengthAdjust="spacingAndGlyphs">395.28</text>
<text x="377.2" y="84.4" font-size="17.3" fill="#f23645" stroke="#f23645" stroke-width="0.35" textLength="39.8" lengthAdjust="spacingAndGlyphs">-3.95</text>
<text x="423.0" y="84.4" font-size="17.3" fill="#f23645" stroke="#f23645" stroke-width="0.35" textLength="66.4" lengthAdjust="spacingAndGlyphs">(−0.99%)</text>
<text x="87.2" y="614.1" font-size="17.3" fill="#131722" stroke="#131722" stroke-width="0.35" textLength="58.2" lengthAdjust="spacingAndGlyphs">Volume</text>
<text x="155.8" y="614.1" font-size="17.3" fill="#f7525f" stroke="#f7525f" stroke-width="0.35" textLength="77.8" lengthAdjust="spacingAndGlyphs">575.504 M</text>
<text x="2146.2" y="507.3" font-size="16" fill="#131722" stroke="#131722" stroke-width="0.35" textLength="49.0" lengthAdjust="spacingAndGlyphs">100.00</text>
<text x="2146.2" y="445.8" font-size="16" fill="#131722" stroke="#131722" stroke-width="0.35" textLength="49.0" lengthAdjust="spacingAndGlyphs">200.00</text>
<text x="2146.2" y="384.3" font-size="16" fill="#131722" stroke="#131722" stroke-width="0.35" textLength="49.0" lengthAdjust="spacingAndGlyphs">300.00</text>
<text x="2146.2" y="322.8" font-size="16" fill="#131722" stroke="#131722" stroke-width="0.35" textLength="49.0" lengthAdjust="spacingAndGlyphs">400.00</text>
<text x="2146.2" y="261.2" font-size="16" fill="#131722" stroke="#131722" stroke-width="0.35" textLength="49.0" lengthAdjust="spacingAndGlyphs">500.00</text>
<text x="2146.2" y="199.7" font-size="16" fill="#131722" stroke="#131722" stroke-width="0.35" textLength="49.0" lengthAdjust="spacingAndGlyphs">600.00</text>
<text x="2146.2" y="138.2" font-size="16" fill="#131722" stroke="#131722" stroke-width="0.35" textLength="49.0" lengthAdjust="spacingAndGlyphs">700.00</text>
<text x="2146.2" y="76.7" font-size="16" fill="#131722" stroke="#131722" stroke-width="0.35" textLength="49.0" lengthAdjust="spacingAndGlyphs">800.00</text>
<text x="2146.2" y="568.9" font-size="16" fill="#131722" stroke="#131722" stroke-width="0.35" textLength="9.2" lengthAdjust="spacingAndGlyphs">0</text>
<text x="2146.2" y="605.0" font-size="16" fill="#131722" stroke="#131722" stroke-width="0.35" textLength="21.3" lengthAdjust="spacingAndGlyphs">4 B</text>
<path d="M2136 308h63a3 3 0 0 1 3 3v18a3 3 0 0 1 -3 3h-63z" fill="#f23645"/>
<text x="2146.4" y="325.6" font-size="16" fill="#ffffff" stroke="#ffffff" stroke-width="0.55" textLength="48.8" lengthAdjust="spacingAndGlyphs">395.28</text>
<rect x="2136" y="631" width="89" height="23" fill="#f7525f"/>
<text x="2146.2" y="648.5" font-size="16" fill="#ffffff" stroke="#ffffff" stroke-width="0.35" textLength="72.5" lengthAdjust="spacingAndGlyphs">575.504 M</text>
<g clip-path="url(#tclip)">
<text x="68.0" y="679.0" font-size="16" fill="#131722" stroke="#131722" stroke-width="0.35" textLength="28.5" lengthAdjust="spacingAndGlyphs">Aug</text>
<text x="192.6" y="679.0" font-size="16" fill="#131722" stroke="#131722" stroke-width="0.35" textLength="16.6" lengthAdjust="spacingAndGlyphs">12</text>
<text x="403.0" y="679.0" font-size="16" fill="#131722" stroke="#131722" stroke-width="0.35" textLength="27.0" lengthAdjust="spacingAndGlyphs">Sep</text>
<text x="526.8" y="679.0" font-size="16" fill="#131722" stroke="#131722" stroke-width="0.35" textLength="16.6" lengthAdjust="spacingAndGlyphs">12</text>
<text x="726.7" y="679.0" font-size="16" fill="#131722" stroke="#131722" stroke-width="0.35" textLength="26.3" lengthAdjust="spacingAndGlyphs">Oct</text>
<text x="850.2" y="679.0" font-size="16" fill="#131722" stroke="#131722" stroke-width="0.35" textLength="16.6" lengthAdjust="spacingAndGlyphs">12</text>
<text x="1060.1" y="679.0" font-size="16" fill="#131722" stroke="#131722" stroke-width="0.35" textLength="28.0" lengthAdjust="spacingAndGlyphs">Nov</text>
<text x="1184.3" y="679.0" font-size="16" fill="#131722" stroke="#131722" stroke-width="0.35" textLength="16.6" lengthAdjust="spacingAndGlyphs">12</text>
<text x="1383.8" y="679.0" font-size="16" fill="#131722" stroke="#131722" stroke-width="0.35" textLength="27.4" lengthAdjust="spacingAndGlyphs">Dec</text>
<text x="1507.7" y="679.0" font-size="16" fill="#131722" stroke="#131722" stroke-width="0.35" textLength="16.6" lengthAdjust="spacingAndGlyphs">12</text>
<text x="1712.8" y="679.0" font-size="16" fill="#131722" stroke="#131722" stroke-width="0.2" textLength="37.7" lengthAdjust="spacingAndGlyphs" font-weight="700">2026</text>
<text x="1841.9" y="679.0" font-size="16" fill="#131722" stroke="#131722" stroke-width="0.35" textLength="16.6" lengthAdjust="spacingAndGlyphs">12</text>
<text x="2052.3" y="679.0" font-size="16" fill="#131722" stroke="#131722" stroke-width="0.35" textLength="27.0" lengthAdjust="spacingAndGlyphs">Feb</text>
</g>
<g fill="none" stroke="#131722" stroke-width="1.5"><path d="M2174.3 673.3l4.9 -8.3h9.8l4.9 8.3l-4.9 8.3h-9.8z"/><circle cx="2184.1" cy="673.3" r="2.9"/></g></svg>
<div class="grp" style="left:3px;width:200px"></div>
<div class="pill" style="left:5px;width:72px"></div>
<span class="t" style="left:20.0px;top:15.6px;font-size:16px;letter-spacing:0.27px;color:#0d1421;font-weight:700;">Price</span>
<span class="t" style="left:95.4px;top:15.6px;font-size:16px;letter-spacing:0.87px;color:#616e85;-webkit-text-stroke:0.35px;">Market cap</span>
<div class="grp" style="left:215px;width:228px"></div>
<div class="pill" style="left:280px;width:160px"></div>
<span class="t" style="left:323.2px;top:15.6px;font-size:16px;letter-spacing:0.78px;color:#0d1421;-webkit-text-stroke:0.35px;">TradingView</span>
<div class="grp" style="left:1555px;width:122px"></div>
<div class="dv" style="left:1615px;top:14px;height:21px"></div>
<div class="grp" style="left:1688px;width:145.5px"></div>
<span class="t" style="left:1733.4px;top:15.6px;font-size:16px;letter-spacing:0.29px;color:#0d1421;font-weight:700;">Indicators</span>
<div class="grp" style="left:1844.5px;width:400px"></div>
<div class="pill" style="left:2007.7px;width:58.7px"></div>
<span class="t" style="left:1861.9px;top:15.6px;font-size:16px;letter-spacing:0.59px;color:#616e85;-webkit-text-stroke:0.35px;">15m</span>
<span class="t" style="left:1924.2px;top:15.6px;font-size:16px;letter-spacing:0.20px;color:#616e85;-webkit-text-stroke:0.35px;">1h</span>
<span class="t" style="left:1971.8px;top:15.6px;font-size:16px;letter-spacing:1.60px;color:#616e85;-webkit-text-stroke:0.35px;">4h</span>
<span class="t" style="left:2021.7px;top:15.6px;font-size:16px;letter-spacing:1.31px;color:#0d1421;font-weight:700;">24h</span>
<span class="t" style="left:2083.2px;top:15.6px;font-size:16px;letter-spacing:-0.30px;color:#616e85;-webkit-text-stroke:0.35px;">1W</span>
<span class="t" style="left:2136.6px;top:15.6px;font-size:16px;letter-spacing:0.19px;color:#616e85;-webkit-text-stroke:0.35px;">1M</span>
<div class="dv" style="left:2174px;top:14.5px;height:20px"></div>
<svg width="2225" height="60" viewBox="0 0 2225 60" style="position:absolute;left:0;top:0" fill="none" stroke-linecap="round" stroke-linejoin="round">
<g stroke="#5a6373" stroke-width="1.8">
<path d="M235.8 17.7V28.7a2 2 0 0 0 2 2H252.6"/>
<path d="M239.5 27.1C246 26.3 245.5 18.3 252.6 18.2"/>
</g>
<g stroke="#0d1421" stroke-width="1.8">
<path d="M301.4 16.7V23.6M301.4 28.8V31.6M310.6 16.7V19.8M310.6 28.8V31.6"/>
<rect x="298.4" y="23.7" width="6" height="5" rx="1.3"/>
<rect x="307.7" y="19.8" width="5.9" height="9" rx="1.3"/>
</g>
<g stroke="#5f6979" stroke-width="2">
<path d="M1593.6 25.6H1578.4M1585 18.6L1578.2 25.6L1585 32.6"/>
</g>
<g stroke="#a7aebb" stroke-width="1.8">
<path d="M1637.4 25.6H1652.6M1646 18.6L1652.8 25.6L1646 32.6"/>
</g>
<g stroke="#616e85" stroke-width="1.5" stroke-linecap="butt">
<path d="M1709.2 31.2V26.2H1711.6V31.2M1715.6 31.2V24.4H1719.4V31.2M1721.6 31.2V22.2H1725.4V31.2"/>
<path d="M1708.6 23.3L1715.6 19.3L1718.8 20.5L1725.8 16.7" stroke-linecap="round"/>
</g>
<g stroke="#616e85" stroke-width="1.5">
<path d="M2195.3 18.8H2203.4M2208.2 18.8H2211M2195.3 24.2H2197.9M2202.7 24.2H2211M2195.3 29.7H2203.4M2208.2 29.7H2211"/>
<circle cx="2205.8" cy="18.8" r="2.3"/><circle cx="2200.3" cy="24.2" r="2.3"/><circle cx="2205.8" cy="29.7" r="2.3"/>
</g>
</svg>
<svg width="80" height="691" viewBox="0 0 80 691" style="position:absolute;left:0;top:0" fill="none" stroke="#2a2e39" stroke-width="1.4" stroke-linecap="round" stroke-linejoin="round">
<!-- crosshair -->
<path d="M35.9 74.8V84.5M35.9 94.9V104.7M20.5 89.7H30.7M41.1 89.7H51.3" stroke="#2962ff" stroke-linecap="butt"/>
<!-- trend line -->
<circle cx="46.3" cy="126.1" r="2.5"/><circle cx="23.6" cy="149" r="2.5"/><path d="M25.5 147.1L44.4 128"/>
<!-- horizontal lines -->
<path d="M20.4 173.5H49.8M20.4 181.6H46.3M20.4 189.7H49.8M23.5 197.8H49.8"/>
<circle cx="49" cy="181.6" r="2.6"/><circle cx="20.8" cy="197.8" r="2.6"/>
<!-- pattern -->
<path d="M27.2 225.8L24.1 243.8M28.8 225.6L32 230.2M25.4 244.4L31.6 234.8M35.5 231.2L41.6 226M44.3 227L47.2 239.5M35.6 234L45.6 240.6"/>
<circle cx="27.7" cy="223.2" r="2.6"/><circle cx="43.7" cy="224.4" r="2.6"/><circle cx="33.3" cy="232.5" r="2.6"/><circle cx="47.8" cy="242.1" r="2.6"/><circle cx="23.6" cy="246.4" r="2.6"/>
<!-- forecast -->
<path d="M25 273.3H48.6M25 286.8H44.2M25 294.9H48.6"/>
<path d="M28.2 283.8L46.4 275.8" stroke-dasharray="0.5 4.5"/>
<circle cx="22.3" cy="273.3" r="2.6"/><circle cx="22.3" cy="286.8" r="2.6"/><circle cx="46.9" cy="286.8" r="2.6"/><circle cx="22.3" cy="294.9" r="2.6"/>
<!-- brush -->
<path d="M19.9 343.5L27.6 331.4C31.8 325.6 41.2 329.4 39.7 336.8C38.8 341.6 34.8 343.5 31.5 343.5Z"/>
<path d="M41 322.4C37.8 324.6 38.8 329.8 44.3 330.4L52.8 322"/>
<!-- text -->
<path d="M25.7 373.4V370.6Q25.7 369.1 27.2 369.1H44Q45.5 369.1 45.5 370.6V373.4M35.7 369.1V392.3M32.4 392.3H39.3"/>
<!-- emoji -->
<circle cx="35" cy="428.8" r="13.8"/>
<circle cx="31.7" cy="426.6" r="1.3" fill="#2a2e39" stroke="none"/><circle cx="38.7" cy="426.6" r="1.3" fill="#2a2e39" stroke="none"/>
<path d="M30.9 432.3Q35.1 438.4 39.4 432.3"/>
<!-- separator -->
<path d="M10.5 462.3H59" stroke="#e0e3eb" stroke-width="1.3"/>
<!-- ruler -->
<g transform="translate(35.2 495.5) rotate(-45)">
<rect x="-17.4" y="-4.8" width="34.8" height="9.6" rx="1.2"/>
<path d="M-11.6 -4.8V-0.8M-5.8 -4.8V-0.8M0 -4.8V-0.8M5.8 -4.8V-0.8M11.6 -4.8V-0.8"/>
</g>
<!-- zoom -->
<circle cx="33.2" cy="542.1" r="10.5"/><path d="M28.2 542.1H38.2M33.2 537.1V547.1M40.8 549.8L45.8 555"/>
<!-- separator -->
<path d="M11.8 577.4H59.6" stroke="#e0e3eb" stroke-width="1.3"/>
<!-- magnet -->
<path d="M24.5 621.5V607.1a10.5 10.5 0 0 1 21 0V621.5H38.5V606.5a3.4 3.4 0 0 0 -6.8 0V621.5ZM24.5 615.8H31.7M38.5 615.8H45.5"/>
<!-- pencil + lock -->
<path d="M20.5 666.2V660.2L35.6 645.1a2.2 2.2 0 0 1 3.1 0L41.3 647.7a2.2 2.2 0 0 1 0 3.1L33.8 658.4"/>
<path d="M20.5 666.2H26.5L33.5 659.2M20.5 660.2L26.5 666.2M33.9 646.8L39.6 652.5"/>
<rect x="37" y="664.4" width="11.6" height="8.2" rx="1.4"/>
<path d="M40.2 664.4V660.4a2.7 2.7 0 0 1 5.4 0V661.6M42.8 667.6V669.6"/>
<!-- collapse button -->
<rect x="62.8" y="577.2" width="10" height="34.6" rx="4.5" fill="#fff" stroke="#e0e3eb" stroke-width="1.3"/>
<path d="M69.3 591.2L66.3 595L69.3 598.8" stroke="#b2b5be" stroke-width="1.2"/>
</svg>
</body></html>
